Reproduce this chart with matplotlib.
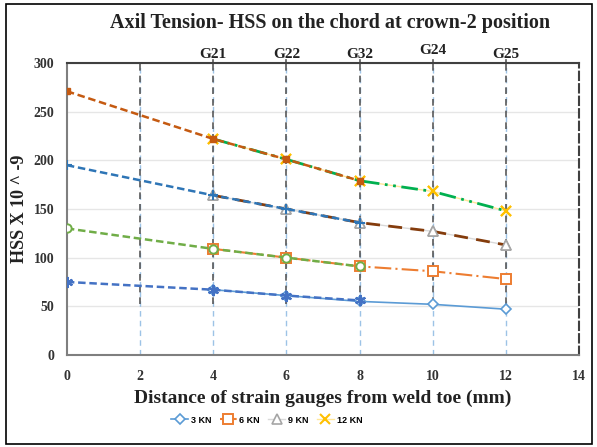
import matplotlib.pyplot as plt
from matplotlib.patches import Rectangle

# measured series (x = distance in mm)
x_meas = [4, 6, 8, 10, 12]
hss_3kn = [67, 61, 55, 52, 47]
hss_6kn = [109, 100, 91, 86, 78]
hss_9kn = [164, 150, 136, 127, 113]
hss_12kn = [222, 201, 179, 168, 148]

# extrapolated series towards the weld toe
x_extra = [0, 4, 6, 8]
ext_3kn = [75, 67, 61, 56]
ext_6kn = [130, 109, 100, 91]
ext_9kn = [195, 164, 150, 136]
ext_12kn = [271, 222, 201, 179]

gauge_x = [4, 6, 8, 10, 12]
gauge_names = ["G21", "G22", "G32", "G24", "G25"]
xticks = [0, 2, 4, 6, 8, 10, 12, 14]
yticks = [0, 50, 100, 150, 200, 250, 300]

serif = "Liberation Serif"

fig = plt.figure(figsize=(5.97, 4.47), dpi=100)
ax = fig.add_axes([0.112, 0.206, 0.858, 0.653])

# vertical gauge lines
for gx in xticks[1:-1]:
    ax.plot([gx, gx], [0, 300], color="#9DC3E6", lw=1.0, ls=(0, (4, 3)), zorder=1)
    ax.plot([gx, gx], [52, 300], color="#595959", lw=1.2, ls=(0, (4, 3)), zorder=1.1)
for gx in gauge_x:
    ax.plot([gx, gx], [300, 303], color="#595959", lw=1.2, clip_on=False, zorder=1.1)

# measured data (lines)
ax.plot(x_meas, hss_3kn, color="#5B9BD5", lw=1.2, marker="D", ms=5, mfc="white", mew=1.2, label="3 KN", zorder=3)
ax.plot(x_meas, hss_6kn, color="#ED7D31", lw=1.5, ls=(0, (8, 2, 1, 2)), marker="s", ms=7, mfc="white", mew=1.4, label="6 KN", zorder=3)
ax.plot(x_meas, hss_9kn, color="#D9D9D9", lw=1.0, marker="^", ms=7, mfc="white", mec="#A5A5A5", mew=1.2, label="9 KN", zorder=1.9)
ax.plot(x_meas, hss_12kn, color="#FFE699", lw=1.0, marker="x", ms=7, mec="#FFC000", mew=1.5, label="12 KN", zorder=1.9)

# trend lines
ax.plot(x_meas, hss_9kn, color="#843C0C", lw=2.0, ls=(0, (5, 3)), zorder=2.2)
ax.plot(x_meas, hss_12kn, color="#00B050", lw=2.0, ls=(0, (6, 2, 1, 2, 1, 2)), zorder=2.2)

# markers on top of the trend lines
ax.plot(x_meas, hss_9kn, ls="none", marker="^", ms=7, mfc="white", mec="#A5A5A5", mew=1.2, zorder=3)
ax.plot(x_meas, hss_12kn, ls="none", marker="x", ms=7, mec="#FFC000", mew=1.5, zorder=3)

# extrapolations
ax.plot(x_extra, ext_3kn, color="#4472C4", lw=1.8, ls=(0, (3, 1.5)), marker=(6, 2, 0), ms=8, mew=1.5, zorder=4)
ax.plot(x_extra, ext_6kn, color="#70AD47", lw=1.8, ls=(0, (3, 1.5)), marker="o", ms=6, mfc="white", mew=1.4, zorder=4)
ax.plot(x_extra, ext_9kn, color="#2E75B6", lw=1.8, ls=(0, (3, 1.5)), marker="+", ms=7, mew=1.5, zorder=4)
ax.plot(x_extra, ext_12kn, color="#C55A11", lw=1.8, ls=(0, (3, 1.5)), marker="s", ms=4, zorder=4)

ax.set_xlim(0, 14)
ax.set_ylim(0, 300)
ax.set_xticks(xticks)
ax.set_yticks(yticks)
ax.yaxis.grid(True, color="#E6E6E6", lw=1.0)
ax.set_axisbelow(True)
ax.tick_params(axis="x", length=0, pad=11)
ax.tick_params(axis="y", length=0, pad=9)
for lab in ax.get_xticklabels() + ax.get_yticklabels():
    lab.set_fontfamily(serif)
    lab.set_fontweight("bold")
    lab.set_fontsize(10)
    lab.set_color("#333333")

for s in ["left", "bottom"]:
    ax.spines[s].set_color("#7F7F7F")
    ax.spines[s].set_linewidth(1.5)
ax.spines["top"].set_color("#404040")
ax.spines["top"].set_linewidth(1.5)
ax.spines["right"].set_color("#404040")
ax.spines["right"].set_linewidth(1.5)
ax.spines["right"].set_linestyle((0, (4, 2)))

for gx, name in zip(gauge_x, gauge_names):
    dy = 6 if name == "G24" else 2
    ax.text(gx, 300 + dy, name, ha="center", va="bottom", fontfamily=serif,
            fontweight="bold", fontsize=11, color="#222222")

fig.text(0.553, 0.949, "Axil Tension- HSS on the chord at crown-2 position", ha="center",
         va="center", fontfamily=serif, fontweight="bold", fontsize=14.5, color="#222222")
ax.set_xlabel("Distance of strain gauges from weld toe (mm)", fontfamily=serif,
              fontweight="bold", fontsize=14, labelpad=5, color="#222222")
ax.set_ylabel("HSS X 10 ^ -9", fontfamily=serif, fontweight="bold", fontsize=13,
              labelpad=4, color="#222222")

ax.legend(loc="upper center", bbox_to_anchor=(0.39, -0.18), ncol=4, frameon=False,
          prop={"family": "Liberation Sans", "weight": "bold", "size": 6.5},
          handlelength=1.9, columnspacing=0.9, handletextpad=0.3)

fig.patches.append(Rectangle((0.01, 0.006), 0.982, 0.986, transform=fig.transFigure,
                             fill=False, ec="black", lw=1.2))

fig.savefig("out.png", dpi=100)
